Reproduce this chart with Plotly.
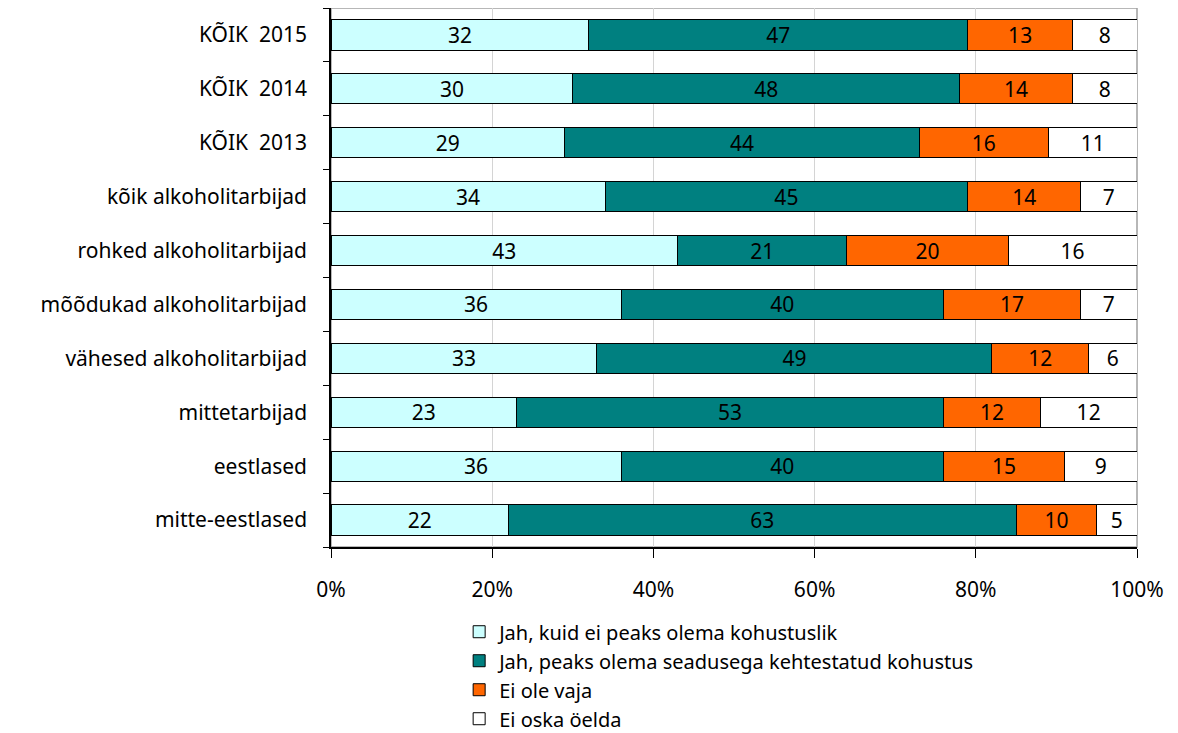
import plotly.graph_objects as go

categories = ["KÕIK  2015", "KÕIK  2014", "KÕIK  2013", "kõik alkoholitarbijad",
              "rohked alkoholitarbijad", "mõõdukad alkoholitarbijad",
              "vähesed alkoholitarbijad", "mittetarbijad", "eestlased", "mitte-eestlased"]

series_names = ["Jah, kuid ei peaks olema kohustuslik",
                "Jah, peaks olema seadusega kehtestatud kohustus",
                "Ei ole vaja",
                "Ei oska öelda"]

jah_kuid = [32, 30, 29, 34, 43, 36, 33, 23, 36, 22]
jah_peaks = [47, 48, 44, 45, 21, 40, 49, 53, 40, 63]
ei_vaja = [13, 14, 16, 14, 20, 17, 12, 12, 15, 10]
ei_oska = [8, 8, 11, 7, 16, 7, 6, 12, 9, 5]

x_ticks = [0, 20, 40, 60, 80, 100]
x_tick_labels = ["0%", "20%", "40%", "60%", "80%", "100%"]

colors = ["#CCFFFF", "#008080", "#FF6600", "#FFFFFF"]
values = [jah_kuid, jah_peaks, ei_vaja, ei_oska]

FONT = "Noto Sans"

fig = go.Figure()
for name, vals, col in zip(series_names, values, colors):
    fig.add_trace(go.Bar(
        y=categories, x=vals, name=name, orientation="h",
        marker=dict(color=col, line=dict(color="#000000", width=1)),
        text=[str(v) for v in vals], textposition="inside",
        insidetextanchor="middle", textangle=0,
        textfont=dict(family=FONT, size=21, color="#000000"),
        constraintext="none",
    ))

fig.update_layout(
    barmode="stack",
    bargap=0.44,
    width=1170, height=725,
    margin=dict(l=323, r=41, t=0, b=186, autoexpand=False),
    plot_bgcolor="white", paper_bgcolor="white",
    font=dict(family=FONT, size=21, color="#000000"),
    uniformtext=dict(minsize=21, mode="show"),
    legend=dict(
        orientation="v", x=0.159, xanchor="left", y=-0.121, yanchor="top",
        font=dict(family=FONT, size=20, color="#000000"),
        traceorder="normal", itemwidth=30, tracegroupgap=0,
        bgcolor="rgba(0,0,0,0)",
    ),
    shapes=[dict(type="rect", xref="paper", yref="paper", x0=0, x1=1, y0=0, y1=1,
                 line=dict(color="#A0A0A0", width=1.5), layer="below")],
)

fig.update_xaxes(
    range=[0, 100], tickvals=x_ticks, ticktext=x_tick_labels,
    showgrid=True, gridcolor="#D4D4D4", gridwidth=1,
    showline=True, linecolor="#000000", linewidth=1.5,
    ticks="outside", ticklen=9, tickcolor="#000000",
    ticklabelstandoff=14, zeroline=False, automargin=False,
    tickfont=dict(family=FONT, size=21),
)
fig.update_yaxes(
    categoryorder="array", categoryarray=categories[::-1],
    showline=True, linecolor="#000000", linewidth=1.5,
    ticks="outside", tickson="boundaries", ticklen=6, tickcolor="#000000",
    ticklabelstandoff=18, showgrid=False, automargin=False,
    tickfont=dict(family=FONT, size=21),
)

fig.write_html("out.html")
